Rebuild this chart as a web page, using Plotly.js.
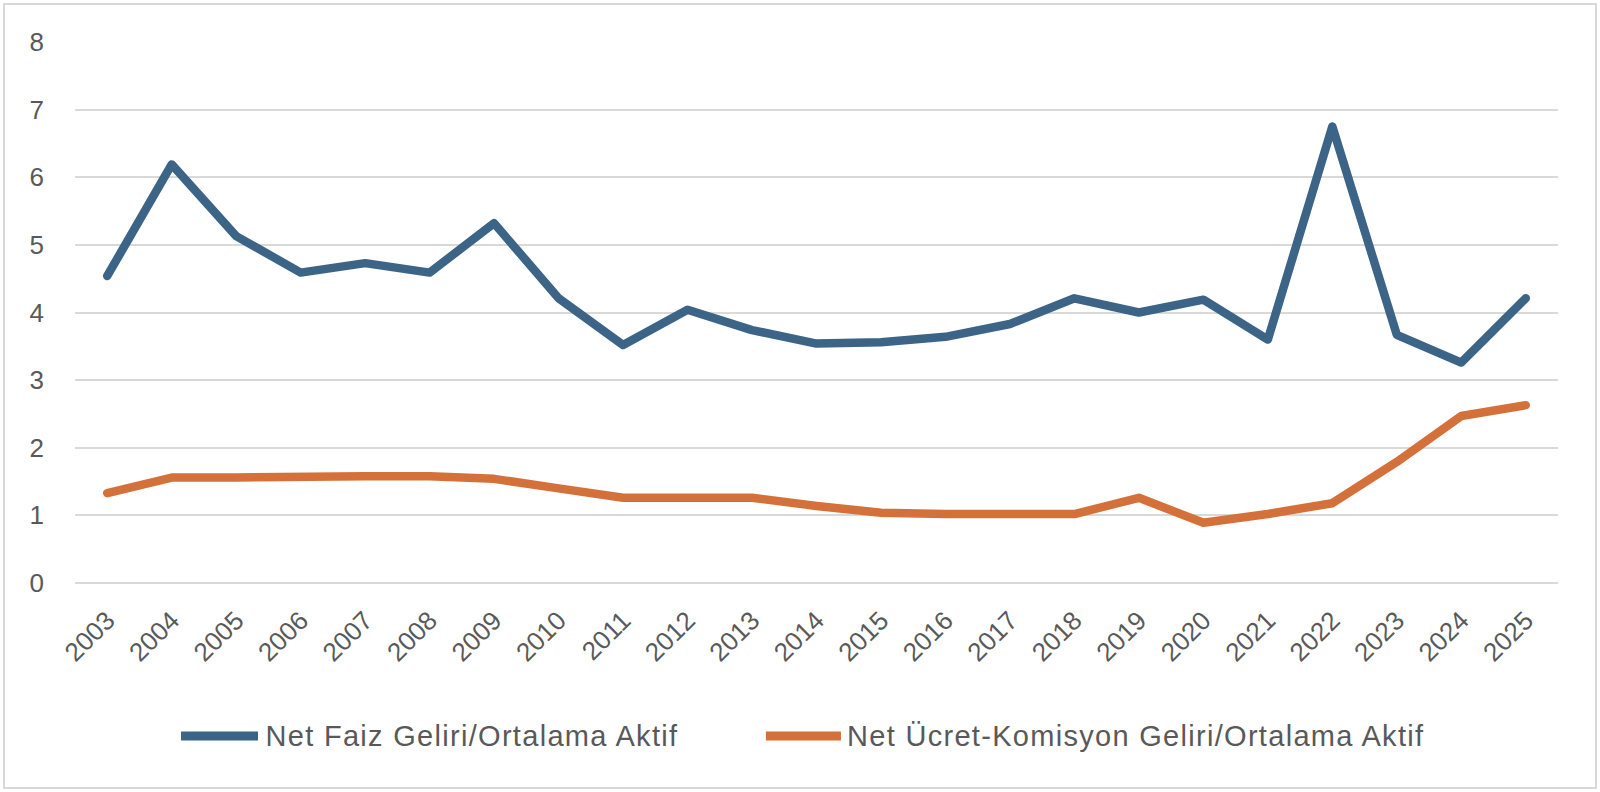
<!DOCTYPE html>
<html>
<head>
<meta charset="utf-8">
<script src="https://cdn.plot.ly/plotly-3.0.1.min.js"></script>
<style>
  html, body { margin: 0; padding: 0; background: #fff; }
  #wrap { position: relative; width: 1600px; height: 792px; }
  #chart { width: 1600px; height: 792px; }
  #frame {
    position: absolute; left: 3px; top: 3px; right: 3px; bottom: 3px;
    border: 2px solid #d9d9d9; pointer-events: none;
  }
  #chart .scatterlayer path.js-line { stroke-linejoin: round; stroke-linecap: round; }
  /* legend names are a little spaced out in the original */
  #chart .annotation-text { letter-spacing: 1.3px; }
</style>
</head>
<body>
<div id="wrap">
  <div id="chart"></div>
  <div id="frame"></div>
</div>
<script>
// years on the category axis
const years = ["2003", "2004", "2005", "2006", "2007", "2008", "2009", "2010", "2011", "2012", "2013", "2014",
  "2015", "2016", "2017", "2018", "2019", "2020", "2021", "2022", "2023", "2024", "2025"];

// Net Faiz Geliri / Ortalama Aktif (%)
const netFaiz = [4.54, 6.19, 5.13, 4.59, 4.73, 4.59, 5.32, 4.21, 3.52, 4.04, 3.74, 3.54,
  3.56, 3.64, 3.83, 4.21, 4.00, 4.19, 3.60, 6.75, 3.67, 3.26, 4.21];

// Net Ücret-Komisyon Geliri / Ortalama Aktif (%)
const netUcret = [1.33, 1.56, 1.56, 1.58, 1.58, 1.58, 1.54, 1.40, 1.26, 1.26, 1.26, 1.14,
  1.04, 1.02, 1.02, 1.02, 1.26, 0.89, 1.02, 1.18, 1.79, 2.47, 2.63];

const yTicks = [0, 1, 2, 3, 4, 5, 6, 7, 8];

const seriesNames = ["Net Faiz Geliri/Ortalama Aktif", "Net Ücret-Komisyon Geliri/Ortalama Aktif"];
const seriesColors = ["#3b6487", "#d4713a"];

const textGrey = "#595959";
const gridGrey = "#d9d9d9";

const traces = [netFaiz, netUcret].map((vals, i) => ({
  x: years,
  y: vals,
  type: "scatter",
  mode: "lines",
  name: seriesNames[i],
  line: { color: seriesColors[i], width: 8.5 },
  hoverinfo: "skip"
}));

// legend drawn below the plot: a short thick line then the series name
// (tx is nudged right because the css letter-spacing grows the text both ways)
const legendY = -0.283;
const legendItems = [
  { x0: 0.0715, x1: 0.1234, tx: 0.1400 },
  { x0: 0.4659, x1: 0.5165, tx: 0.5370 }
];

const legendShapes = legendItems.map((it, i) => ({
  type: "line", xref: "paper", yref: "paper",
  x0: it.x0, x1: it.x1, y0: legendY, y1: legendY,
  line: { color: seriesColors[i], width: 9 }
}));

const legendLabels = legendItems.map((it, i) => ({
  xref: "paper", yref: "paper",
  x: it.tx, y: legendY, xanchor: "left", yanchor: "middle",
  text: seriesNames[i], showarrow: false,
  font: { family: "Liberation Sans, Arial, sans-serif", size: 29, color: textGrey }
}));

const layout = {
  width: 1600,
  height: 792,
  margin: { l: 75, r: 42, t: 42, b: 209 },
  paper_bgcolor: "#ffffff",
  plot_bgcolor: "#ffffff",
  font: { family: "Liberation Sans, Arial, sans-serif", color: textGrey },
  showlegend: false,
  xaxis: {
    type: "category",
    range: [-0.5, years.length - 0.5],
    tickangle: -45,
    tickfont: { size: 26, color: textGrey },
    showgrid: false,
    showline: false,
    zeroline: false,
    ticks: "",
    ticklabelstandoff: 16
  },
  yaxis: {
    range: [0, 8],
    tickvals: yTicks,
    tickfont: { size: 26, color: textGrey },
    showgrid: true,
    gridcolor: gridGrey,
    gridwidth: 2,
    zeroline: true,
    zerolinecolor: gridGrey,
    zerolinewidth: 2,
    showline: false,
    ticks: "",
    ticklabelstandoff: 30
  },
  shapes: legendShapes,
  annotations: legendLabels
};

Plotly.newPlot("chart", traces, layout, { displayModeBar: false, staticPlot: true });
</script>
</body>
</html>
